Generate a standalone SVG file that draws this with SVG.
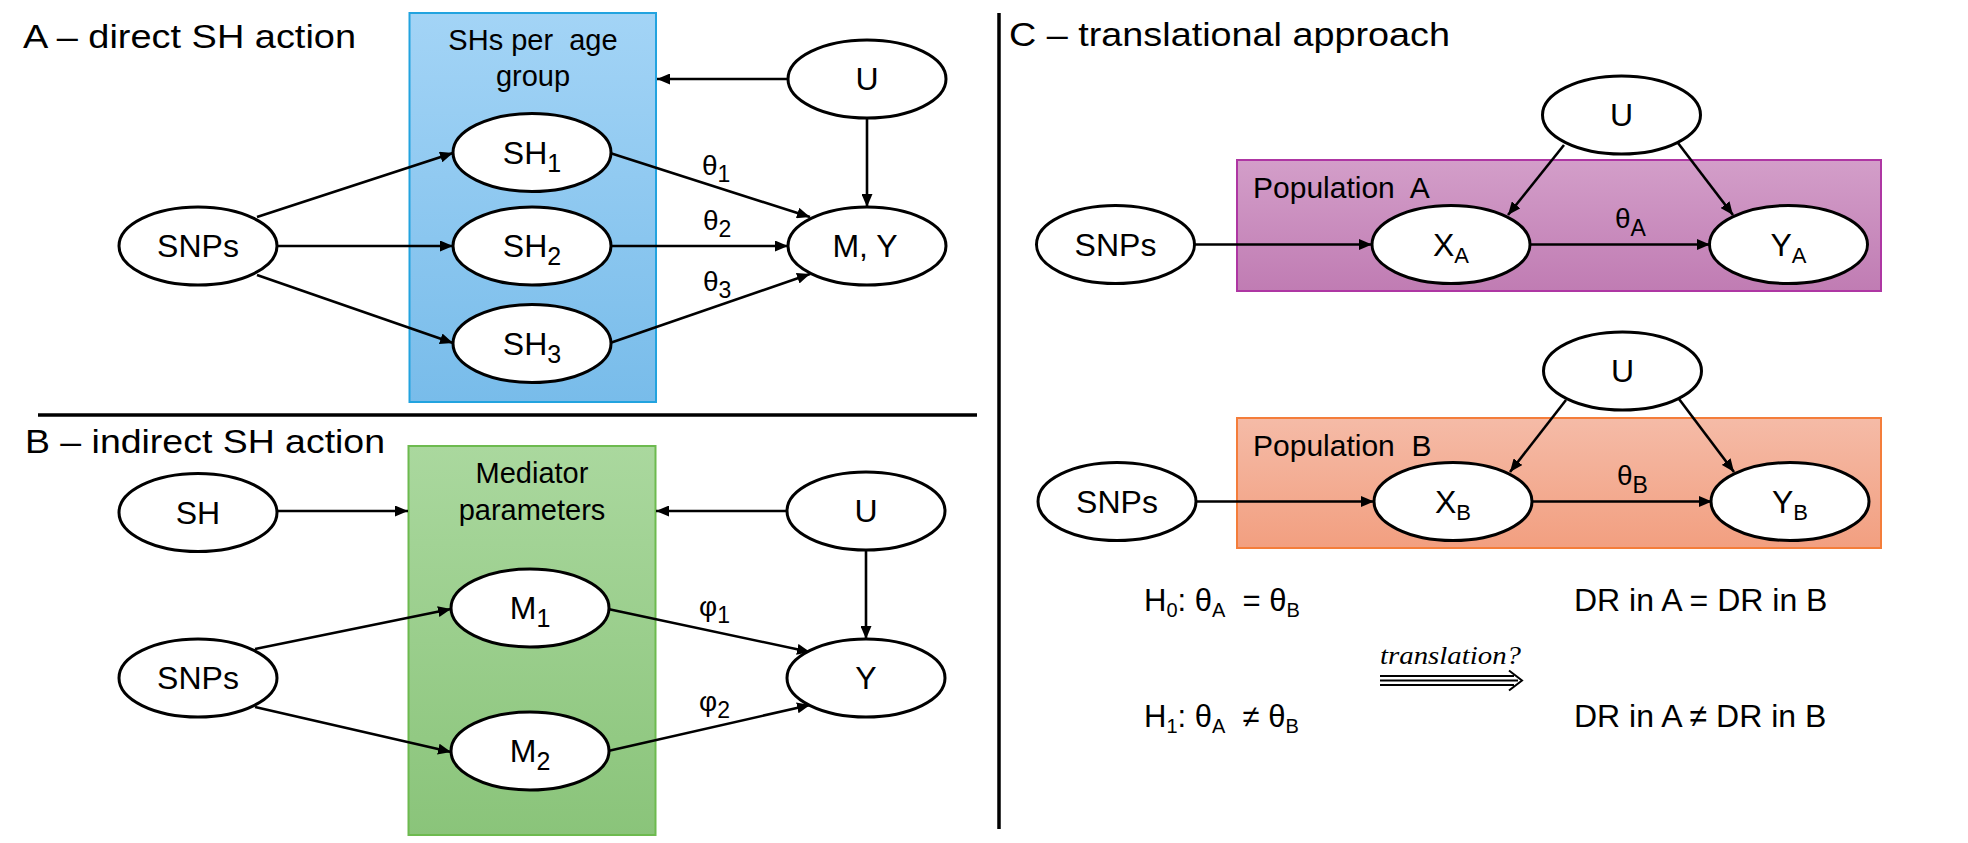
<svg xmlns="http://www.w3.org/2000/svg" width="1968" height="843" viewBox="0 0 1968 843">
<defs>
<linearGradient id="gBlue" x1="0" y1="0" x2="0" y2="1"><stop offset="0" stop-color="#A3D4F6"/><stop offset="1" stop-color="#78BCEA"/></linearGradient>
<linearGradient id="gGreen" x1="0" y1="0" x2="0" y2="1"><stop offset="0" stop-color="#AAD89E"/><stop offset="1" stop-color="#8AC47A"/></linearGradient>
<linearGradient id="gPurple" x1="0" y1="0" x2="0" y2="1"><stop offset="0" stop-color="#D39EC9"/><stop offset="1" stop-color="#C07CB3"/></linearGradient>
<linearGradient id="gOrange" x1="0" y1="0" x2="0" y2="1"><stop offset="0" stop-color="#F5BBA7"/><stop offset="1" stop-color="#F29F80"/></linearGradient>
<marker id="ah" markerWidth="13" markerHeight="11" refX="13" refY="5.5" orient="auto" markerUnits="userSpaceOnUse"><path d="M0,0 L13,5.5 L0,11 z" fill="#000"/></marker>
</defs>
<style>
text{font-family:"Liberation Sans",Arial,sans-serif;fill:#000}
.n ellipse{fill:#fff;stroke:#000;stroke-width:3}
.lbl{font-size:32px;text-anchor:middle}
.ttl{font-size:34px}
.box{font-size:29px;text-anchor:middle}
.par{font-size:28px}
.sep{stroke:#000;stroke-width:3.5}
#connectors line{stroke:#000;stroke-width:2.6;marker-end:url(#ah)}
</style>
<rect width="1968" height="843" fill="#fff"/>

<!-- separators -->
<line class="sep" x1="38" y1="415" x2="977" y2="415"/>
<line class="sep" x1="999" y1="13" x2="999" y2="829"/>

<!-- titles -->
<text class="ttl" x="23" y="48" textLength="333" lengthAdjust="spacingAndGlyphs">A – direct SH action</text>
<text class="ttl" x="25" y="453" textLength="360" lengthAdjust="spacingAndGlyphs">B – indirect SH action</text>
<text class="ttl" x="1009" y="46" textLength="441" lengthAdjust="spacingAndGlyphs">C – translational approach</text>

<!-- group boxes -->
<g id="box-sh-age">
<rect x="409.5" y="13" width="246.5" height="389" fill="url(#gBlue)" stroke="#22A3DF" stroke-width="2"/>
<text class="box" x="533" y="50">SHs per&#160; age</text>
<text class="box" x="533" y="86">group</text>
</g>
<g id="box-mediator">
<rect x="408.5" y="446" width="247" height="389" fill="url(#gGreen)" stroke="#6DBA4F" stroke-width="2"/>
<text class="box" x="532" y="483">Mediator</text>
<text class="box" x="532" y="520">parameters</text>
</g>
<g id="box-popA">
<rect x="1237" y="160" width="644" height="131" fill="url(#gPurple)" stroke="#AE36A3" stroke-width="2"/>
<text x="1253" y="198" style="font-size:30px">Population&#160; A</text>
</g>
<g id="box-popB">
<rect x="1237" y="418" width="644" height="130" fill="url(#gOrange)" stroke="#F47D3A" stroke-width="2"/>
<text x="1253" y="456" style="font-size:30px">Population&#160; B</text>
</g>

<!-- connectors -->
<g id="connectors">
<line x1="257" y1="217" x2="453" y2="153"/>
<line x1="277" y1="246" x2="453" y2="246"/>
<line x1="257" y1="275" x2="453" y2="343"/>
<line x1="610" y1="153" x2="810" y2="217"/>
<line x1="611" y1="246" x2="788" y2="246"/>
<line x1="610" y1="343" x2="810" y2="274"/>
<line x1="788" y1="79" x2="657" y2="79"/>
<line x1="867" y1="118" x2="867" y2="207"/>

<line x1="277" y1="511" x2="408" y2="511"/>
<line x1="787" y1="511" x2="656" y2="511"/>
<line x1="255" y1="649" x2="451" y2="609"/>
<line x1="255" y1="707" x2="451" y2="752"/>
<line x1="608" y1="609" x2="810" y2="652"/>
<line x1="608" y1="751" x2="810" y2="705"/>
<line x1="866" y1="550" x2="866" y2="639"/>

<line x1="1194" y1="244.5" x2="1372" y2="244.5"/>
<line x1="1530" y1="244.5" x2="1710" y2="244.5"/>
<line x1="1564" y1="145" x2="1508" y2="215"/>
<line x1="1678" y1="143" x2="1733" y2="215"/>

<line x1="1196" y1="501.5" x2="1374" y2="501.5"/>
<line x1="1532" y1="501.5" x2="1712" y2="501.5"/>
<line x1="1566" y1="400" x2="1510" y2="472"/>
<line x1="1679" y1="399" x2="1734" y2="472"/>
</g>

<!-- edge labels -->
<g id="edge-labels">
<text class="par" x="702" y="175">θ<tspan font-size="23" dy="7">1</tspan></text>
<text class="par" x="703" y="230">θ<tspan font-size="23" dy="7">2</tspan></text>
<text class="par" x="703" y="291">θ<tspan font-size="23" dy="7">3</tspan></text>
<text class="par" x="699" y="616">φ<tspan font-size="23" dy="7">1</tspan></text>
<text class="par" x="699" y="711">φ<tspan font-size="23" dy="7">2</tspan></text>
<text class="par" x="1615" y="228">θ<tspan font-size="23" dy="8">A</tspan></text>
<text class="par" x="1617" y="485">θ<tspan font-size="23" dy="8">B</tspan></text>
</g>

<!-- Panel A nodes -->
<g id="a-snps" class="n"><ellipse cx="198" cy="246" rx="79" ry="39"/><text class="lbl" x="198" y="257">SNPs</text></g>
<g id="a-sh1" class="n"><ellipse cx="532" cy="152.5" rx="79" ry="39"/><text class="lbl" x="532" y="164">SH<tspan font-size="25" dy="8">1</tspan></text></g>
<g id="a-sh2" class="n"><ellipse cx="532" cy="246" rx="79" ry="39"/><text class="lbl" x="532" y="257">SH<tspan font-size="25" dy="8">2</tspan></text></g>
<g id="a-sh3" class="n"><ellipse cx="532" cy="343.5" rx="79" ry="39"/><text class="lbl" x="532" y="355">SH<tspan font-size="25" dy="8">3</tspan></text></g>
<g id="a-u" class="n"><ellipse cx="867" cy="79" rx="79" ry="39"/><text class="lbl" x="867" y="90">U</text></g>
<g id="a-my" class="n"><ellipse cx="867" cy="246" rx="79" ry="39"/><text class="lbl" x="865" y="257">M, Y</text></g>

<!-- Panel B nodes -->
<g id="b-sh" class="n"><ellipse cx="198" cy="512.5" rx="79" ry="39"/><text class="lbl" x="198" y="524">SH</text></g>
<g id="b-snps" class="n"><ellipse cx="198" cy="678" rx="79" ry="39"/><text class="lbl" x="198" y="689">SNPs</text></g>
<g id="b-m1" class="n"><ellipse cx="530" cy="608" rx="79" ry="39"/><text class="lbl" x="530" y="619">M<tspan font-size="25" dy="8">1</tspan></text></g>
<g id="b-m2" class="n"><ellipse cx="530" cy="751" rx="79" ry="39"/><text class="lbl" x="530" y="762">M<tspan font-size="25" dy="8">2</tspan></text></g>
<g id="b-u" class="n"><ellipse cx="866" cy="511" rx="79" ry="39"/><text class="lbl" x="866" y="522">U</text></g>
<g id="b-y" class="n"><ellipse cx="866" cy="678" rx="79" ry="39"/><text class="lbl" x="866" y="689">Y</text></g>

<!-- Panel C nodes -->
<g id="c-snps-a" class="n"><ellipse cx="1115.5" cy="244.5" rx="79" ry="39"/><text class="lbl" x="1115.5" y="255.5">SNPs</text></g>
<g id="c-xa" class="n"><ellipse cx="1451" cy="244.5" rx="79" ry="39"/><text class="lbl" x="1451" y="255.5">X<tspan font-size="22" dy="7">A</tspan></text></g>
<g id="c-ya" class="n"><ellipse cx="1788.5" cy="244.5" rx="79" ry="39"/><text class="lbl" x="1788.5" y="255.5">Y<tspan font-size="22" dy="7">A</tspan></text></g>
<g id="c-u-a" class="n"><ellipse cx="1621.5" cy="115" rx="79" ry="39"/><text class="lbl" x="1621.5" y="126">U</text></g>
<g id="c-snps-b" class="n"><ellipse cx="1117" cy="501.5" rx="79" ry="39"/><text class="lbl" x="1117" y="512.5">SNPs</text></g>
<g id="c-xb" class="n"><ellipse cx="1453" cy="501.5" rx="79" ry="39"/><text class="lbl" x="1453" y="512.5">X<tspan font-size="22" dy="7">B</tspan></text></g>
<g id="c-yb" class="n"><ellipse cx="1790" cy="501.5" rx="79" ry="39"/><text class="lbl" x="1790" y="512.5">Y<tspan font-size="22" dy="7">B</tspan></text></g>
<g id="c-u-b" class="n"><ellipse cx="1622.5" cy="371" rx="79" ry="39"/><text class="lbl" x="1622.5" y="382">U</text></g>

<!-- hypotheses -->
<g id="hypotheses" style="font-size:31px">
<text x="1144" y="611">H<tspan font-size="20" dy="6">0</tspan><tspan dy="-6">: θ</tspan><tspan font-size="20" dy="6">A</tspan><tspan dy="-6">&#160; = θ</tspan><tspan font-size="20" dy="6">B</tspan></text>
<text x="1144" y="727">H<tspan font-size="20" dy="6">1</tspan><tspan dy="-6">: θ</tspan><tspan font-size="20" dy="6">A</tspan><tspan dy="-6">&#160; ≠ θ</tspan><tspan font-size="20" dy="6">B</tspan></text>
<text x="1574" y="611" style="font-size:32px">DR in A = DR in B</text>
<text x="1574" y="727" style="font-size:32px">DR in A ≠ DR in B</text>
<text x="1380" y="664" textLength="141" lengthAdjust="spacingAndGlyphs" style="font-family:'Liberation Serif',serif;font-style:italic;font-size:25px">translation?</text>
<g fill="none" stroke="#000" stroke-width="2">
<line x1="1380" y1="676" x2="1514" y2="676"/>
<line x1="1380" y1="680.5" x2="1518" y2="680.5"/>
<line x1="1380" y1="685" x2="1514" y2="685"/>
<path d="M1509,670.5 L1522,680.5 L1509,690.5"/>
</g>
</g>
</svg>
